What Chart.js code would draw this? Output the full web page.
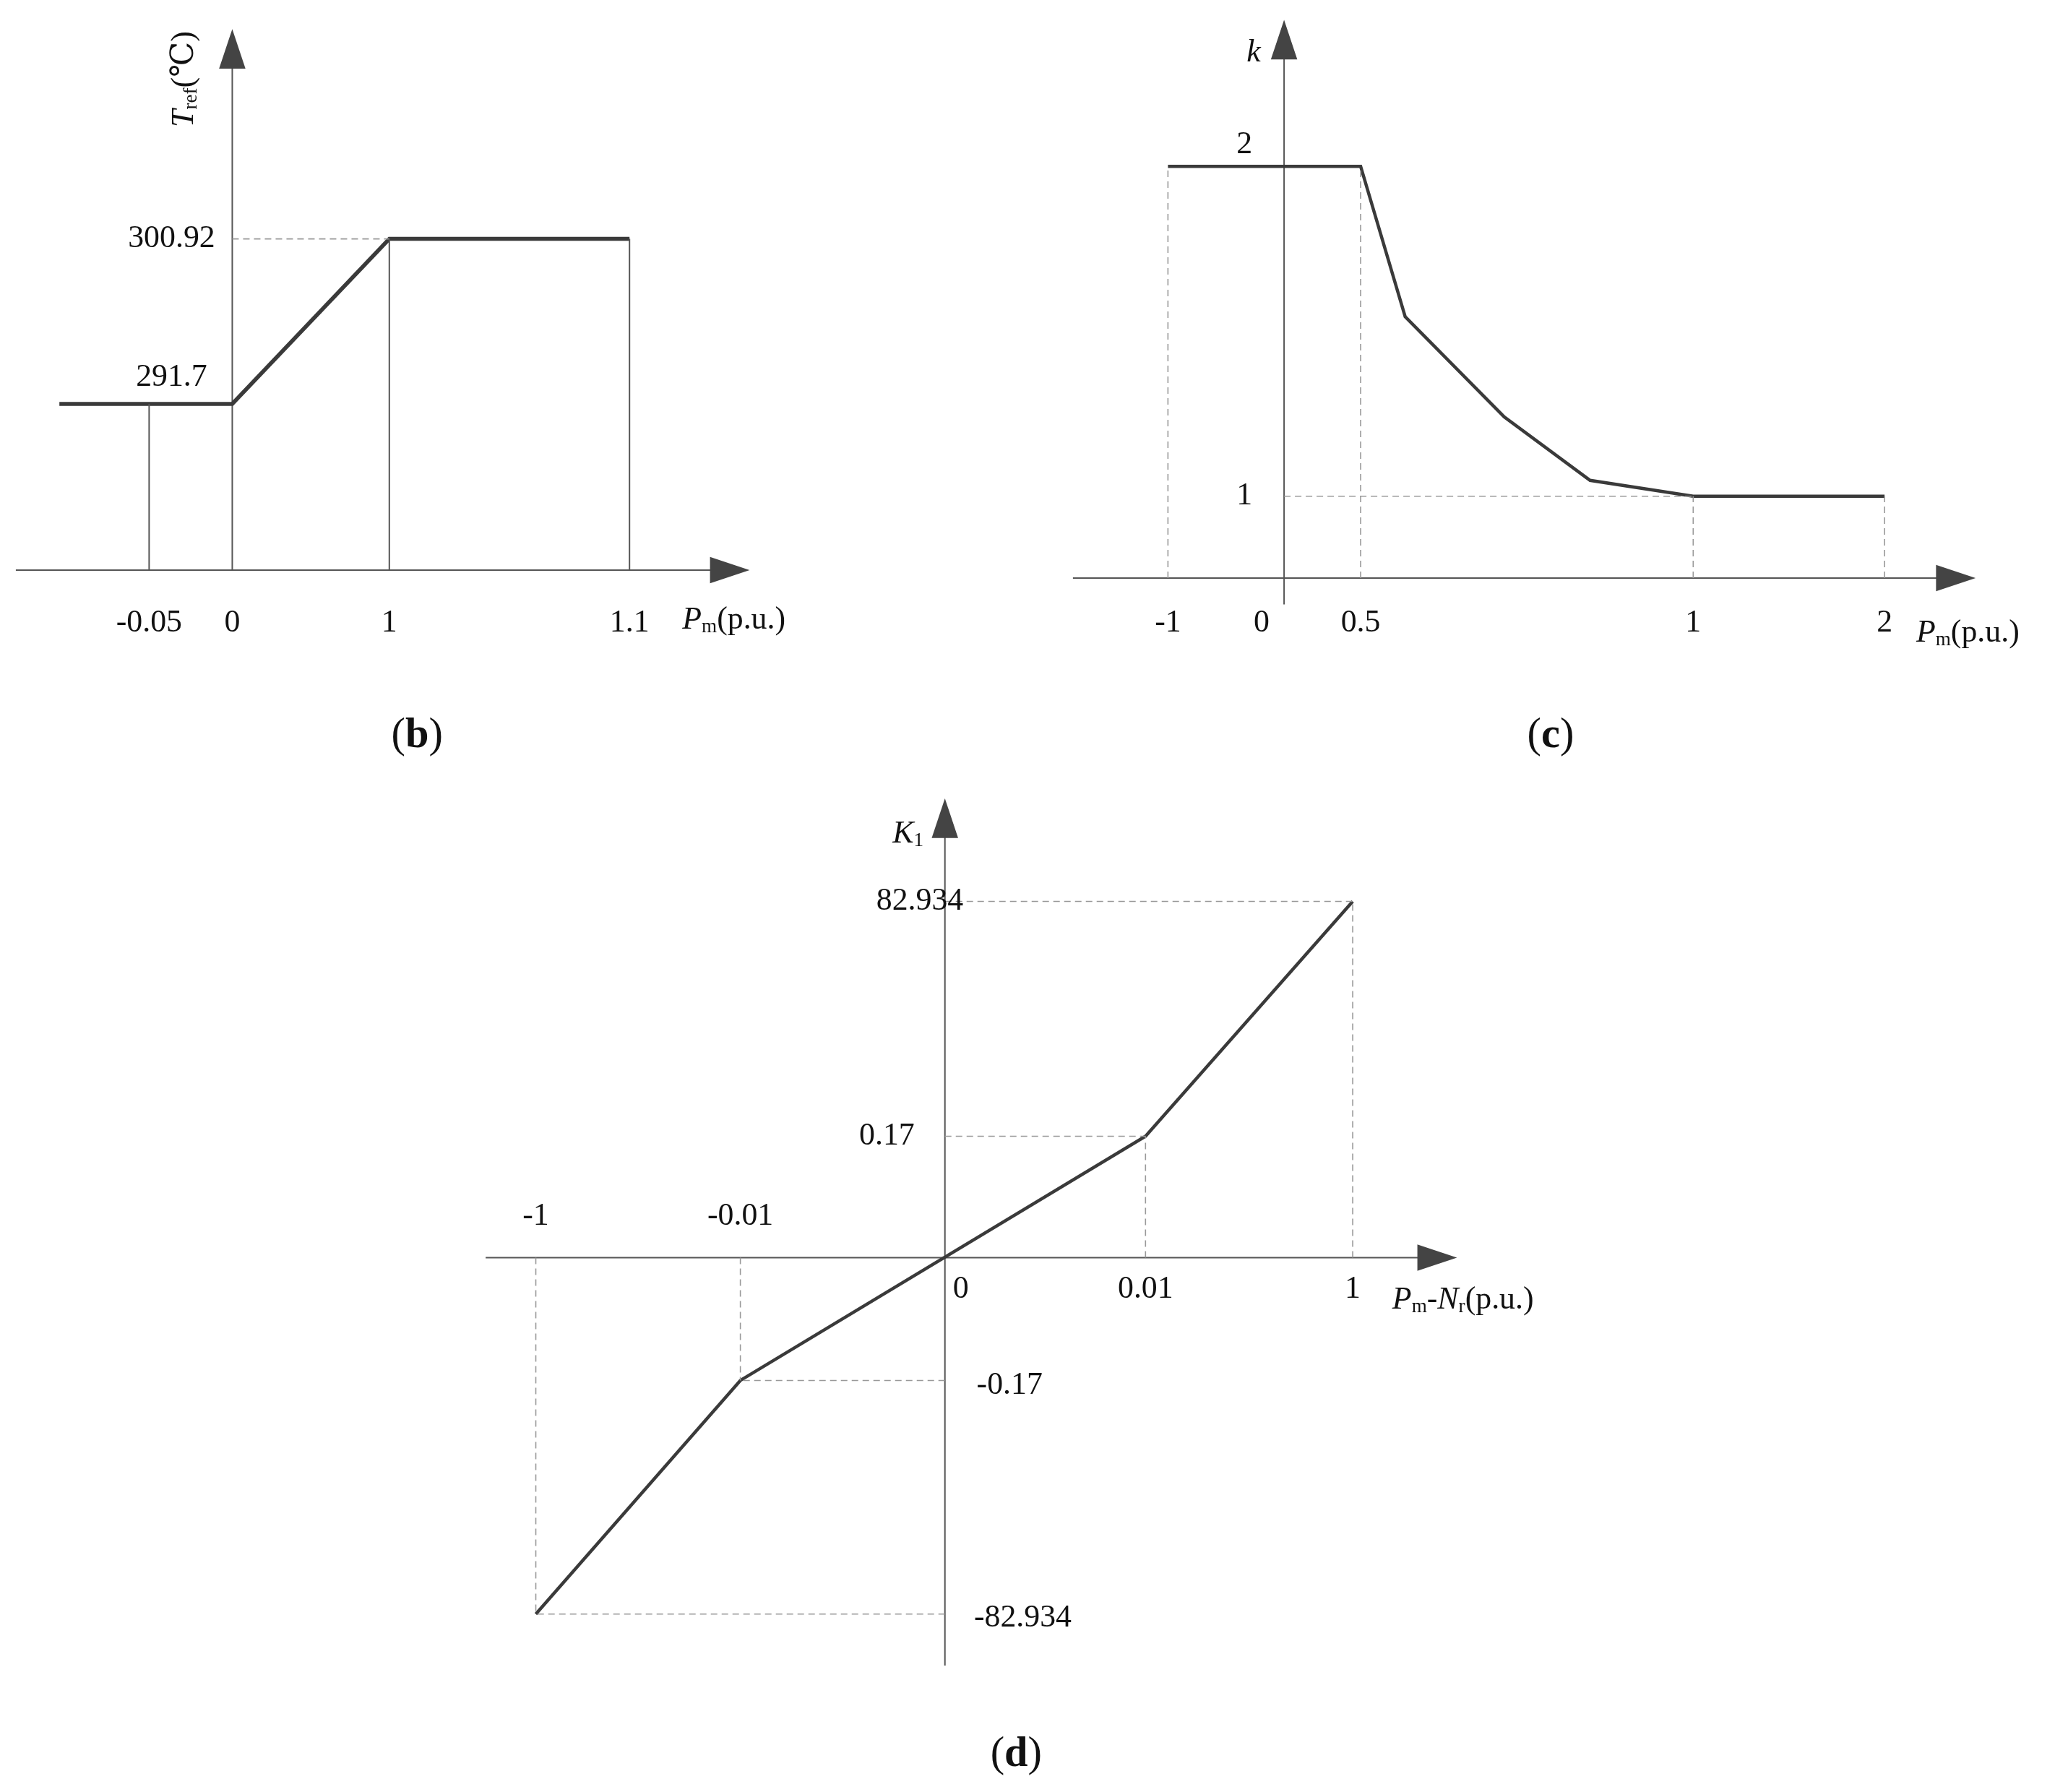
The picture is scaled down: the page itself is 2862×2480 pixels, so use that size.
<!DOCTYPE html>
<html>
<head>
<meta charset="utf-8">
<script src="https://cdn.jsdelivr.net/npm/chart.js@4.4.0/dist/chart.umd.min.js"></script>
<style>
html, body { margin: 0; padding: 0; background: #fff; }
#c { display: block; }
</style>
</head>
<body>
<canvas id="c" width="2862" height="2480"></canvas>
<script>
// reference drawn at 1567 px wide, page is 2862
const S = 2862 / 1567;

// (b) T_ref vs P_m
const bX = [-0.1, 0, 1, 1.1];
const bY = [291.7, 291.7, 300.92, 300.92];
const bXTicks = [-0.05, 0, 1, 1.1];
const bXLabels = ["-0.05", "0", "1", "1.1"];
const bYTicks = [300.92, 291.7];
const bYLabels = ["300.92", "291.7"];

// (c) k vs P_m
const cX = [-1, 0.5, 0.567, 0.716, 0.845, 1, 2];
const cY = [2, 2, 1.544, 1.24, 1.048, 1, 1];
const cXTicks = [-1, 0, 0.5, 1, 2];
const cXLabels = ["-1", "0", "0.5", "1", "2"];
const cYTicks = [2, 1];
const cYLabels = ["2", "1"];

// (d) K1 vs Pm-Nr
const dX = [-1, -0.01, 0.01, 1];
const dY = [-82.934, -0.17, 0.17, 82.934];
const dXTicks = [-1, -0.01, 0, 0.01, 1];
const dXLabels = ["-1", "-0.01", "0", "0.01", "1"];
const dYTicks = [82.934, 0.17, -0.17, -82.934];
const dYLabels = ["82.934", "0.17", "-0.17", "-82.934"];

// schematic (non-uniform) axes: value -> reference pixel breakpoints
class PiecewiseScale extends Chart.LinearScale {
    getPixelForValue(v) {
        const m = this.options.map;
        const V = m.v, P = m.p;
        let i = 0;
        while (i < V.length - 2 && v > V[i + 1]) i++;
        const t = (v - V[i]) / (V[i + 1] - V[i]);
        return (P[i] + t * (P[i + 1] - P[i])) * S;
    }
    getValueForPixel(px) {
        const m = this.options.map;
        return m.v[0];
    }
}
PiecewiseScale.id = "piecewise";
PiecewiseScale.defaults = Chart.LinearScale.defaults;
Chart.register(PiecewiseScale);

const maps = {
    xb: { v: [-0.15, -0.1, -0.05, 0, 1, 1.1, 1.35], p: [12, 45, 113, 176, 295, 477, 568] },
    yb: { v: [290, 291.7, 300.92, 303], p: [432, 306, 181, 22] },
    xc: { v: [-1.6, -1, 0, 0.5, 1, 2, 2.5], p: [813, 885, 973, 1031, 1283, 1428, 1497] },
    yc: { v: [-0.1, 0, 1, 2, 2.6], p: [458, 438, 376, 126, 15] },
    xd: { v: [-1.3, -1, -0.01, 0, 0.01, 1, 1.3], p: [368, 406, 561, 716, 868, 1025, 1104] },
    yd: { v: [-100, -82.934, -0.17, 0, 0.17, 82.934, 110], p: [1262, 1223, 1046, 953, 861, 683, 605] },
};

const scales = {};
for (const id in maps) {
    const m = maps[id];
    scales[id] = {
        type: "piecewise", axis: id[0], display: false, map: m,
        min: Math.min(...m.v), max: Math.max(...m.v),
    };
}

const LINE = "#3a3a3a", THIN = "#555", DASH = "#999";

function series(xs, ys, ax, ay, w) {
    return {
        xAxisID: ax, yAxisID: ay, data: xs.map((x, i) => ({ x, y: ys[i] })),
        borderColor: LINE, borderWidth: w, pointRadius: 0, clip: false, fill: false, tension: 0,
    };
}
function seg(x1, y1, x2, y2, ax, ay, dashed) {
    return {
        xAxisID: ax, yAxisID: ay, data: [{ x: x1, y: y1 }, { x: x2, y: y2 }],
        borderColor: dashed ? DASH : THIN, borderWidth: dashed ? 1.6 : 2,
        borderDash: dashed ? [9, 6] : [], pointRadius: 0, clip: false, fill: false,
    };
}

const datasets = [];
// guides (b)
datasets.push(seg(-0.05, 290, -0.05, 291.7, "xb", "yb", false));
datasets.push(seg(1, 290, 1, 300.92, "xb", "yb", false));
datasets.push(seg(1.1, 290, 1.1, 300.92, "xb", "yb", false));
datasets.push(seg(0, 300.92, 1, 300.92, "xb", "yb", true));
// guides (c)
[[-1, 2], [0.5, 2], [1, 1], [2, 1]].forEach(([x, y]) => datasets.push(seg(x, 0, x, y, "xc", "yc", true)));
datasets.push(seg(0, 1, 1, 1, "xc", "yc", true));
// guides (d)
dX.forEach((x, i) => {
    datasets.push(seg(x, 0, x, dY[i], "xd", "yd", true));
    datasets.push(seg(0, dY[i], x, dY[i], "xd", "yd", true));
});
datasets.push(series(bX, bY, "xb", "yb", 5.5));
datasets.push(series(cX, cY, "xc", "yc", 4.5));
datasets.push(series(dX, dY, "xd", "yd", 4.5));

const FONT = "'Liberation Serif', 'DejaVu Serif', serif";
const FS = 24 * S;

function rich(ctx, parts, x, y, align) {
    const fontOf = p => `${p.italic ? "italic " : ""}${p.bold ? "bold " : ""}${p.sub ? FS * 0.62 : (p.size || FS)}px ${FONT}`;
    let w = 0;
    parts.forEach(p => { ctx.font = fontOf(p); w += ctx.measureText(p.t).width; });
    let cx = align === "center" ? x - w / 2 : align === "right" ? x - w : x;
    ctx.textAlign = "left";
    ctx.textBaseline = "middle";
    parts.forEach(p => {
        ctx.font = fontOf(p);
        ctx.fillText(p.t, cx, y + (p.sub ? FS * 0.22 : 0));
        cx += ctx.measureText(p.t).width;
    });
}

function arrow(ctx, x, y, dir) {
    const L = 30 * S, H = 10 * S;
    ctx.beginPath();
    if (dir === "r") { ctx.moveTo(x, y); ctx.lineTo(x - L, y - H); ctx.lineTo(x - L, y + H); }
    else { ctx.moveTo(x, y); ctx.lineTo(x - H, y + L); ctx.lineTo(x + H, y + L); }
    ctx.closePath();
    ctx.fill();
}

const panels = [
    { x: "xb", y: "yb", xCross: 290, yCross: 0 },
    { x: "xc", y: "yc", xCross: 0, yCross: 0 },
    { x: "xd", y: "yd", xCross: 0, yCross: 0 },
];

const decor = {
    id: "decor",
    beforeDatasetsDraw(chart) {
        const ctx = chart.ctx;
        ctx.save();
        ctx.strokeStyle = THIN; ctx.fillStyle = "#444"; ctx.lineWidth = 2;
        panels.forEach(p => {
            const xs = chart.scales[p.x], ys = chart.scales[p.y];
            const mx = maps[p.x], my = maps[p.y];
            const ay = ys.getPixelForValue(p.xCross), ax = xs.getPixelForValue(p.yCross);
            const x0 = mx.p[0] * S, x1 = mx.p[mx.p.length - 1] * S;
            const y0 = my.p[0] * S, y1 = my.p[my.p.length - 1] * S;
            ctx.beginPath(); ctx.moveTo(x0, ay); ctx.lineTo(x1 - 28 * S, ay); ctx.stroke();
            ctx.beginPath(); ctx.moveTo(ax, y0); ctx.lineTo(ax, y1 + 28 * S); ctx.stroke();
            arrow(ctx, x1, ay, "r");
            arrow(ctx, ax, y1, "u");
        });
        ctx.restore();
    },
    afterDraw(chart) {
        const ctx = chart.ctx;
        const sc = chart.scales;
        ctx.save();
        ctx.fillStyle = "#111";
        const t = (s, x, y, a) => rich(ctx, [{ t: s }], x, y, a || "center");
        // (b)
        bXTicks.forEach((v, i) => t(bXLabels[i], sc.xb.getPixelForValue(v), 472 * S));
        t(bYLabels[0], 163 * S, sc.yb.getPixelForValue(bYTicks[0]), "right");
        t(bYLabels[1], 130 * S, sc.yb.getPixelForValue(bYTicks[1]) - 20 * S);
        rich(ctx, [{ t: "P", italic: true }, { t: "m", sub: true }, { t: "(p.u.)" }], 517 * S, 470 * S, "left");
        ctx.save();
        ctx.translate(140 * S, 60 * S); ctx.rotate(-Math.PI / 2);
        rich(ctx, [{ t: "T", italic: true }, { t: "ref", sub: true }, { t: "(℃)" }], 0, 0, "center");
        ctx.restore();
        // (c)
        cXTicks.forEach((v, i) => t(cXLabels[i], sc.xc.getPixelForValue(v) + (v === 0 ? -17 * S : 0), 472 * S));
        t(cYLabels[0], 943 * S, sc.yc.getPixelForValue(cYTicks[0]) - 16 * S);
        t(cYLabels[1], 943 * S, sc.yc.getPixelForValue(cYTicks[1]));
        rich(ctx, [{ t: "k", italic: true }], 950 * S, 40 * S, "center");
        rich(ctx, [{ t: "P", italic: true }, { t: "m", sub: true }, { t: "(p.u.)" }], 1452 * S, 480 * S, "left");
        // (d)
        dXTicks.forEach((v, i) => {
            const x = sc.xd.getPixelForValue(v);
            if (v < 0) t(dXLabels[i], x, 922 * S);
            else if (v === 0) t(dXLabels[i], x + 12 * S, 977 * S);
            else t(dXLabels[i], x, 977 * S);
        });
        t(dYLabels[0], 730 * S, sc.yd.getPixelForValue(dYTicks[0]), "right");
        t(dYLabels[1], 693 * S, sc.yd.getPixelForValue(dYTicks[1]), "right");
        t(dYLabels[2], 740 * S, sc.yd.getPixelForValue(dYTicks[2]) + 4 * S, "left");
        t(dYLabels[3], 738 * S, sc.yd.getPixelForValue(dYTicks[3]) + 3 * S, "left");
        rich(ctx, [{ t: "K", italic: true }, { t: "1", sub: true }], 688 * S, 632 * S, "center");
        rich(ctx, [{ t: "P", italic: true }, { t: "m", sub: true }, { t: "-" }, { t: "N", italic: true }, { t: "r", sub: true }, { t: "(p.u.)" }], 1055 * S, 985 * S, "left");
        // captions
        const cap = (l, x, y) => rich(ctx, [{ t: "(", size: 32 * S }, { t: l, bold: true, size: 32 * S }, { t: ")", size: 32 * S }], x * S, y * S, "center");
        cap("b", 316, 558); cap("c", 1175, 558); cap("d", 770, 1330);
        ctx.restore();
    },
};

new Chart(document.getElementById("c"), {
    type: "line",
    data: { datasets },
    options: {
        responsive: false, animation: false, devicePixelRatio: 1, events: [],
        layout: { padding: 0 },
        scales,
        plugins: { legend: { display: false }, tooltip: { enabled: false } },
    },
    plugins: [decor],
});
</script>
</body>
</html>
